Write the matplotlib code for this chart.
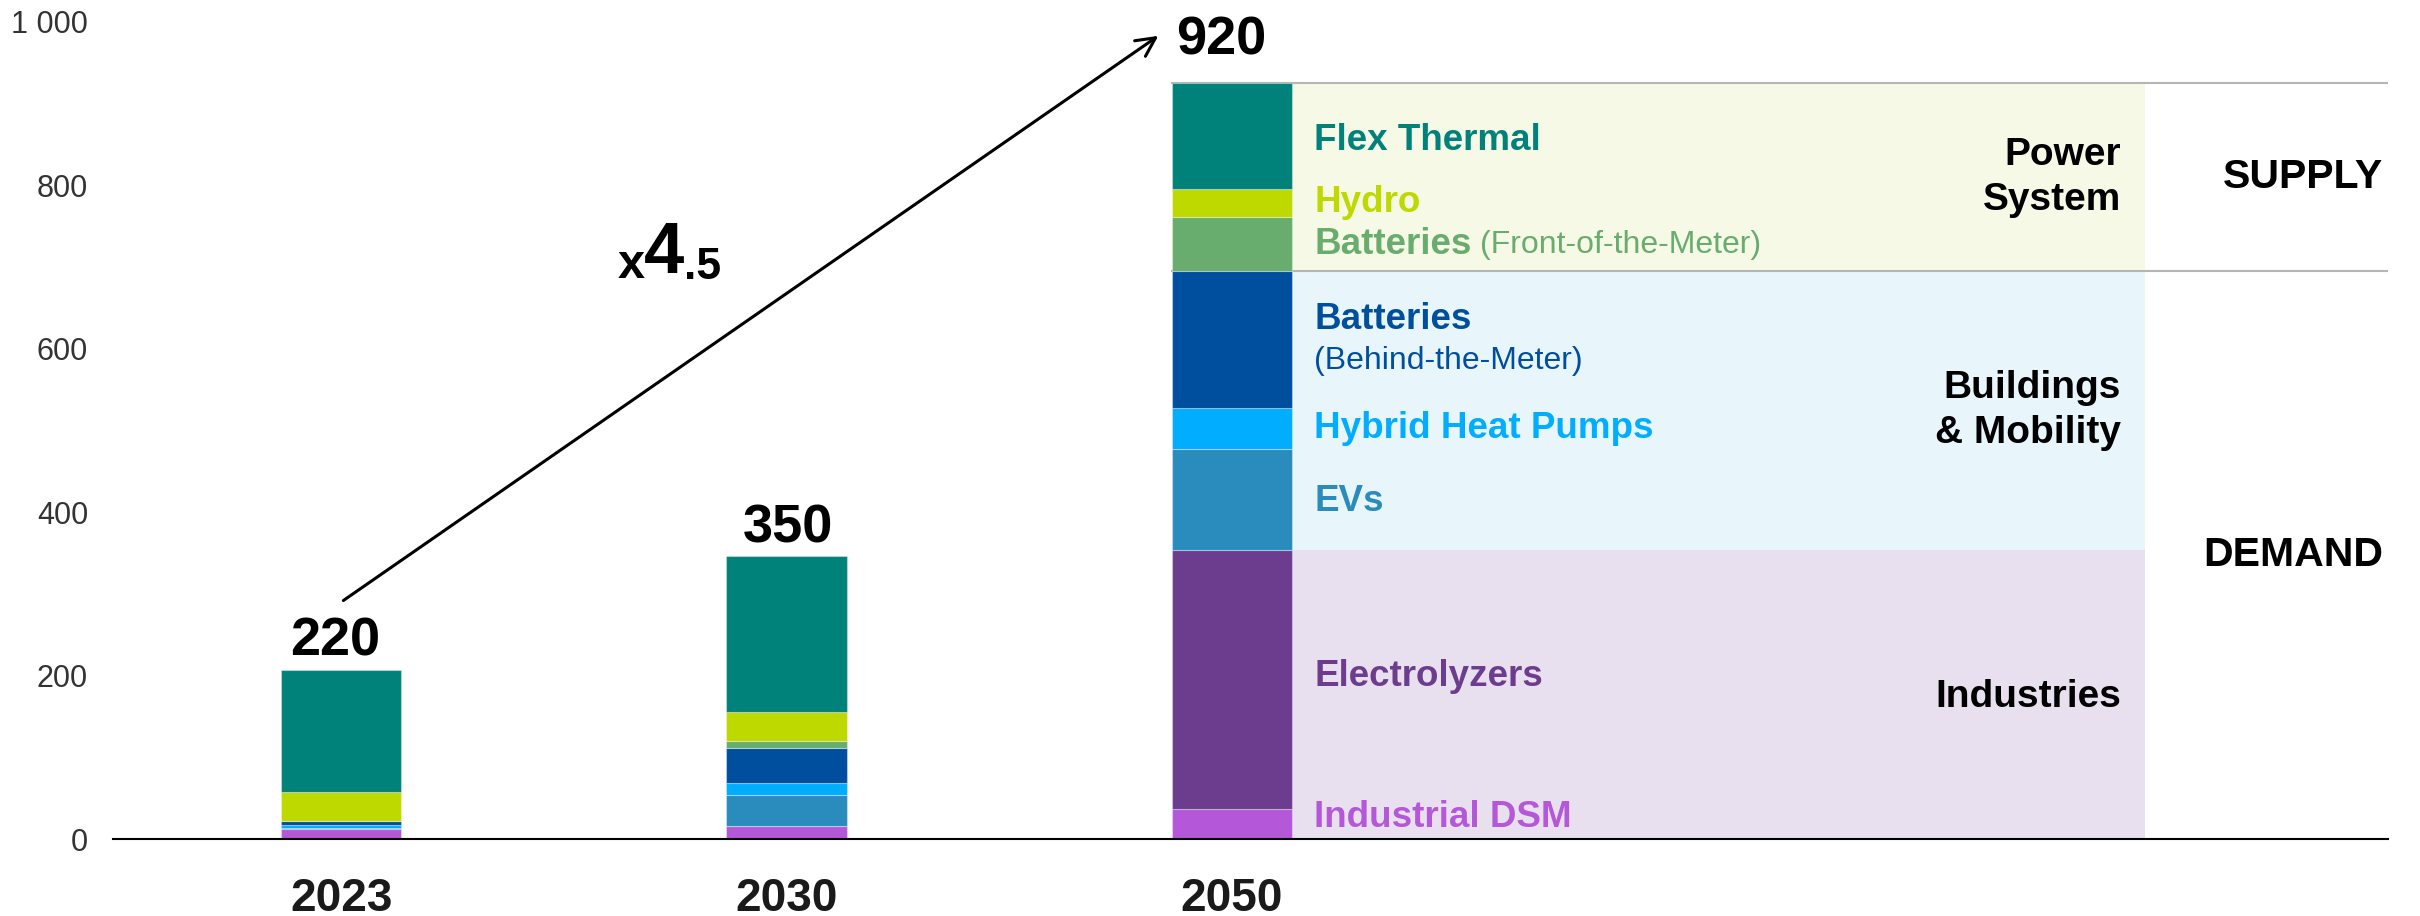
import matplotlib.pyplot as plt
import numpy as np
from matplotlib.ticker import FuncFormatter

plt.rcParams["font.family"] = ["Liberation Sans", "DejaVu Sans"]

years = ["2023", "2030", "2050"]
totals = ["220", "350", "920"]

# stacked from bottom to top
categories = [
    "Industrial DSM",
    "Electrolyzers",
    "EVs",
    "Hybrid Heat Pumps",
    "Batteries BTM",
    "Batteries FTM",
    "Hydro",
    "Flex Thermal",
]
dsm = [12, 16, 37]
electrolyzers = [0, 0, 317]
evs = [2, 38, 123]
heat_pumps = [3, 15, 51]
batteries_btm = [4.5, 42, 167]
batteries_ftm = [1, 9, 66]
hydro = [35, 35, 35]
flex_thermal = [150, 191, 129]

colors = ["#b457d8", "#6c3d8f", "#2a8bbd", "#00adff",
          "#004f9f", "#68ad6e", "#bed900", "#00827a"]
band_colors = ["#e8e0ee", "#e8f6fc", "#f6f9e5"]

series = [dsm, electrolyzers, evs, heat_pumps, batteries_btm,
          batteries_ftm, hydro, flex_thermal]

fig = plt.figure(figsize=(24.2, 9.16), dpi=100)
ax = fig.add_axes([0.0467, 0.084, 0.94, 0.892])

x = np.arange(len(years))
w = 0.27
bottom = np.zeros(len(years))
seg_lo = []
for vals, c in zip(series, colors):
    vals = np.array(vals, dtype=float)
    ax.bar(x, vals, w, bottom=bottom, color=c,
           edgecolor=(1, 1, 1, 0.35), linewidth=0.8, zorder=3)
    seg_lo.append(bottom.copy())
    bottom = bottom + vals
seg_lo.append(bottom.copy())
seg_lo = np.array(seg_lo)  # boundaries, shape (9, 3)

# 2050 bands: industries, buildings & mobility, power system
x_bar_r = x[2] + w / 2
x_band_r = 4.05
x_max = 4.595
b = seg_lo[:, 2]
band_edges = [b[0], b[2], b[5], b[8]]
for i in range(3):
    ax.fill_between([x_bar_r, x_band_r], band_edges[i], band_edges[i + 1],
                    color=band_colors[i], linewidth=0, zorder=1)
for yv in (band_edges[2], band_edges[3]):
    ax.plot([x[2] - w / 2, x_max], [yv, yv], color="#b5b5b5", lw=1.5, zorder=2)

# category labels
lx = x_bar_r + 0.05
mids = (b[:-1] + b[1:]) / 2
lab = dict(fontsize=26.5, fontweight="bold", va="center", ha="left")
ax.text(lx, mids[7] - 5, "Flex Thermal", color=colors[7], **lab)
ax.text(lx, mids[6], "Hydro", color=colors[6], **lab)
t_ftm = ax.text(lx, mids[5], "Batteries", color=colors[5], **lab)
ax.annotate("(Front-of-the-Meter)", xy=(1, 0), xycoords=t_ftm,
            xytext=(6, 1), textcoords="offset points", color=colors[5],
            fontsize=23, va="bottom", ha="left")
ax.text(lx, mids[4] + 24, "Batteries", color=colors[4], **lab)
ax.text(lx, mids[4] - 27, "(Behind-the-Meter)", color=colors[4],
        fontsize=23, va="center", ha="left")
ax.text(lx, mids[3], "Hybrid Heat Pumps", color=colors[3], **lab)
ax.text(lx, mids[2] - 2, "EVs", color=colors[2], **lab)
ax.text(lx, mids[1] + 4, "Electrolyzers", color=colors[1], **lab)
ax.text(lx, mids[0] + 8, "Industrial DSM", color=colors[0], **lab)

# group labels
gx = 3.996
grp = dict(fontsize=28, fontweight="bold", ha="right", va="center",
           color="black", linespacing=1.32)
ax.text(gx, (band_edges[2] + band_edges[3]) / 2, "Power\nSystem", **grp)
ax.text(gx, (band_edges[1] + band_edges[2]) / 2, "Buildings\n& Mobility", **grp)
ax.text(gx, (band_edges[0] + band_edges[1]) / 2 - 3, "Industries", **grp)
grp["fontsize"] = 29.5
ax.text(4.585, (band_edges[2] + band_edges[3]) / 2, "SUPPLY", **grp)
ax.text(4.585, band_edges[2] / 2, "DEMAND", **grp)

# totals above bars
tot_dx = [-0.014, 0.004, -0.025]
tot_dy = [4, 4, 22]
for xi, tot, top, dx, dy in zip(x, totals, seg_lo[-1], tot_dx, tot_dy):
    ax.text(xi + dx, top + dy, tot, fontsize=39, fontweight="bold",
            ha="center", va="bottom", clip_on=False)

# growth arrow
ax.annotate("", xy=(1.84, 985), xytext=(0.0, 290),
            arrowprops=dict(arrowstyle="->", color="black", lw=2.2,
                            mutation_scale=34), annotation_clip=False)
t_x = ax.text(0.62, 687, "x", fontsize=35, fontweight="bold", ha="left",
              va="baseline")
t_4 = ax.annotate("4", xy=(1, 0), xycoords=t_x, xytext=(0, 0),
                  textcoords="offset points", fontsize=52, fontweight="bold",
                  ha="left", va="bottom")
ax.annotate(".5", xy=(1, 0), xycoords=t_4, xytext=(0, 0),
            textcoords="offset points", fontsize=32, fontweight="bold",
            ha="left", va="bottom")

ax.set_xlim(-0.512, x_max)
ax.set_ylim(0, 1000)
ax.set_yticks([0, 200, 400, 600, 800, 1000])
ax.yaxis.set_major_formatter(FuncFormatter(
    lambda v, p: f"{int(v):,}".replace(",", " ")))
ax.set_xticks(x)
ax.set_xticklabels(years, fontsize=33, fontweight="bold")
ax.tick_params(axis="y", length=0, pad=18, labelsize=22, labelcolor="#333333")
ax.tick_params(axis="x", length=0, pad=27, labelcolor="#1a1a1a")
for s in ("top", "right", "left"):
    ax.spines[s].set_visible(False)
ax.spines["bottom"].set_linewidth(1.5)
ax.spines["bottom"].set_zorder(4)

fig.savefig("out.png", dpi=100)
